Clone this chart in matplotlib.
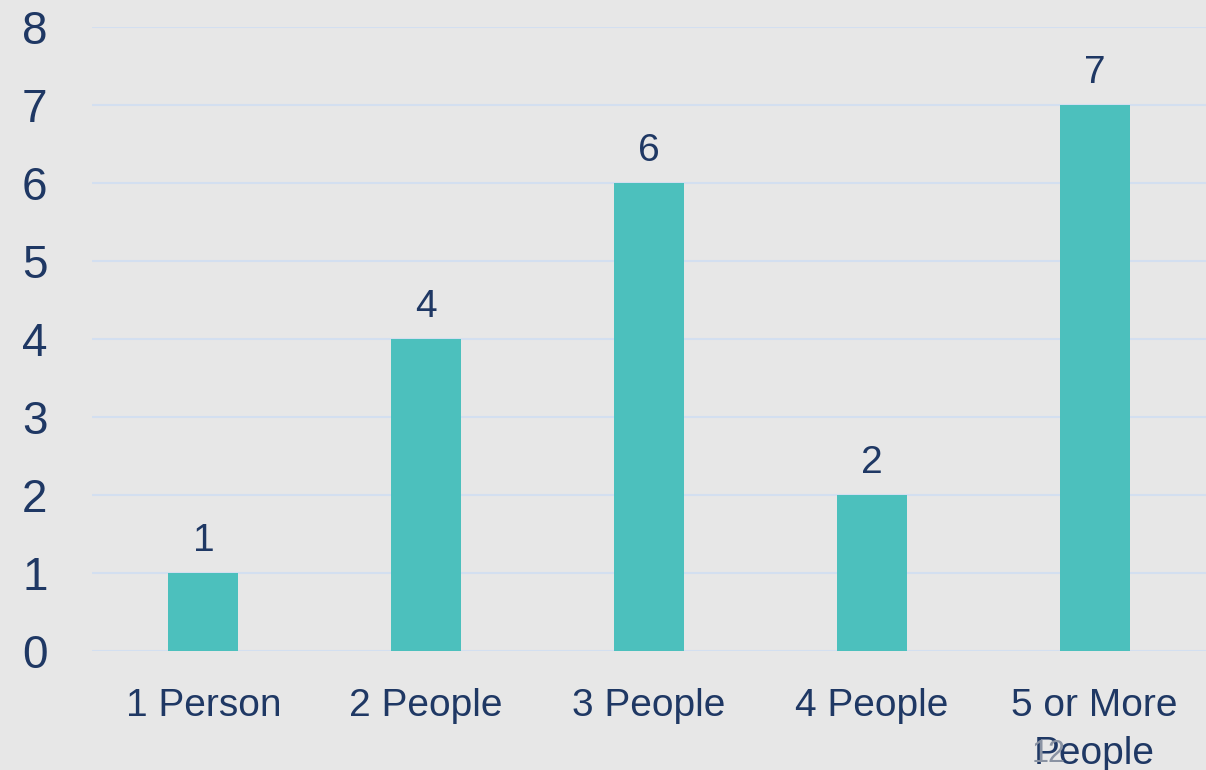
import matplotlib
matplotlib.use("Agg")
import matplotlib.pyplot as plt

categories = ["1 Person", "2 People", "3 People", "4 People", "5 or More\nPeople"]
values = [1, 4, 6, 2, 7]
yticks = [0, 1, 2, 3, 4, 5, 6, 7, 8]

BG = "#e7e7e7"
BAR = "#4cc0bd"
TXT = "#1f3864"
GRID = "#d3dff0"

plt.rcParams['font.family'] = ['Liberation Sans', 'DejaVu Sans']

fig = plt.figure(figsize=(12.06, 7.70), dpi=100, facecolor=BG)
ax = fig.add_axes([92/1206, 119/770, 1 - 92/1206, (651-27)/770])
ax.set_facecolor(BG)

x = list(range(len(categories)))
bars = ax.bar(x, values, width=0.314, color=BAR, zorder=3)
for xi, v in zip(x, values):
    ax.annotate(str(v), (xi, v), xytext=(0, 10), textcoords="offset points",
                ha="center", va="bottom", fontsize=28, color=TXT)

ax.set_xlim(-0.5, len(categories) - 0.5)
ax.set_ylim(0, 8)
ax.set_yticks(yticks)
ax.set_yticklabels([str(t) for t in yticks], fontsize=33, color=TXT)
ax.set_xticks(x)
ax.set_xticklabels(categories, fontsize=28, color=TXT, linespacing=1.4)
ax.tick_params(axis='y', length=0, pad=32)
ax.tick_params(axis='x', length=0, pad=27)
ax.yaxis.grid(True, color=GRID, linewidth=1.5, zorder=0)
for s in ax.spines.values():
    s.set_visible(False)

fig.text(1049/1206, 1 - 754/770, "12", fontsize=22, color="#8a93a3", ha="center", va="center")

fig.savefig("out.png", dpi=100, facecolor=BG)
